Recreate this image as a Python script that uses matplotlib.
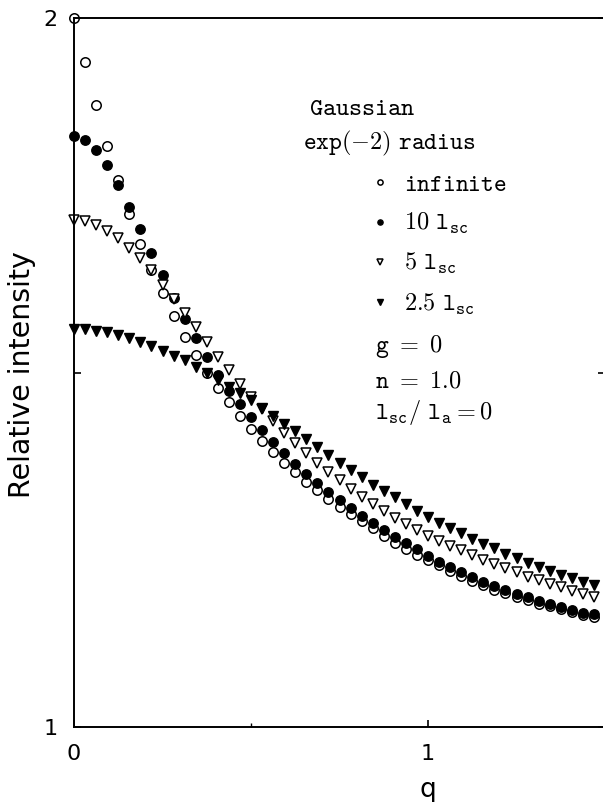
import numpy as np
import matplotlib
matplotlib.use("Agg")
import matplotlib.pyplot as plt

plt.rcParams['mathtext.fontset'] = 'cm'
plt.rcParams['font.family'] = ['DejaVu Sans']

q = np.arange(48) / 32

infinite = [2.000, 1.938, 1.877, 1.820, 1.771, 1.723, 1.681, 1.645, 1.612, 1.579,
            1.550, 1.524, 1.499, 1.478, 1.458, 1.439, 1.421, 1.404, 1.388, 1.373,
            1.359, 1.346, 1.334, 1.322, 1.311, 1.300, 1.290, 1.280, 1.270, 1.260,
            1.251, 1.243, 1.235, 1.228, 1.220, 1.213, 1.206, 1.200, 1.193, 1.189,
            1.184, 1.179, 1.174, 1.170, 1.166, 1.162, 1.158, 1.155]
r10 = [1.834, 1.828, 1.814, 1.793, 1.765, 1.734, 1.702, 1.668, 1.637, 1.605,
       1.575, 1.548, 1.522, 1.496, 1.474, 1.456, 1.437, 1.419, 1.402, 1.386,
       1.371, 1.357, 1.344, 1.332, 1.320, 1.309, 1.298, 1.288, 1.278, 1.268,
       1.259, 1.251, 1.241, 1.233, 1.226, 1.219, 1.212, 1.205, 1.199, 1.193,
       1.188, 1.183, 1.178, 1.173, 1.169, 1.165, 1.161, 1.159]
r5 = [1.715, 1.713, 1.708, 1.700, 1.689, 1.676, 1.661, 1.645, 1.624, 1.604,
      1.584, 1.564, 1.543, 1.522, 1.504, 1.484, 1.466, 1.448, 1.431, 1.415,
      1.400, 1.386, 1.373, 1.360, 1.348, 1.336, 1.325, 1.314, 1.304, 1.295,
      1.286, 1.278, 1.269, 1.262, 1.255, 1.249, 1.242, 1.236, 1.230, 1.224,
      1.218, 1.212, 1.207, 1.202, 1.197, 1.192, 1.187, 1.183]
r25 = [1.562, 1.561, 1.559, 1.557, 1.553, 1.548, 1.543, 1.537, 1.531, 1.523,
       1.517, 1.508, 1.500, 1.490, 1.480, 1.471, 1.461, 1.450, 1.439, 1.428,
       1.417, 1.406, 1.395, 1.384, 1.373, 1.362, 1.352, 1.342, 1.333, 1.324,
       1.3145, 1.305, 1.296, 1.288, 1.280, 1.273, 1.265, 1.258, 1.252, 1.244,
       1.238, 1.232, 1.226, 1.220, 1.214, 1.210, 1.205, 1.200]

labels = [r'$\mathtt{infinite}$', r'$\mathtt{10\ l_{sc}}$',
          r'$\mathtt{5\ l_{sc}}$', r'$\mathtt{2.5\ l_{sc}}$']

fig = plt.figure(figsize=(6.03, 8.02), dpi=100)
ax = fig.add_axes([74 / 603, 75 / 802, 531 / 603, 709 / 802])

ms = 6.8
l1, = ax.plot(q, infinite, 'o', ms=ms, mfc='white', mec='black', mew=1.1, clip_on=False)
l2, = ax.plot(q, r10, 'o', ms=ms, mfc='black', mec='black', clip_on=False)
l3, = ax.plot(q, r5, 'v', ms=ms + 0.4, mfc='white', mec='black', mew=1.1, clip_on=False)
l4, = ax.plot(q, r25, 'v', ms=ms + 0.4, mfc='black', mec='black', clip_on=False)

ax.set_xlim(0, 1.5)
ax.set_ylim(1, 2)
ax.set_xticks([0, 1])
ax.set_xticklabels(['0', '1'])
ax.set_xticks([0.5], minor=True)
ax.set_yticks([1, 1.5, 2])
ax.set_yticklabels(['1', '', '2'])

for s in ['left', 'bottom', 'top']:
    ax.spines[s].set_linewidth(1.4)
ax.spines['right'].set_visible(False)

ax.tick_params(axis='both', which='major', direction='in', length=5, width=1.2,
               labelsize=16, right=True)
ax.tick_params(axis='y', pad=12)
ax.tick_params(axis='x', pad=12)
ax.tick_params(axis='x', which='minor', direction='in', length=3, width=1)

fig.text(22 / 603, 1 - 375 / 802, 'Relative intensity', rotation=90,
         ha='center', va='center', fontsize=20.5)
fig.text(428 / 603, 1 - 790 / 802, 'q', ha='center', va='center', fontsize=19)

tfs = 17.5
fig.text(309 / 603, 1 - 108 / 802, r'$\mathtt{Gaussian}$', ha='left', va='center', fontsize=tfs + 0.5)
fig.text(303 / 603, 1 - 143 / 802, r'$\mathtt{exp(-2)\ radius}$', ha='left', va='center', fontsize=tfs)

leg = fig.legend([l1, l2, l3, l4], labels, loc='upper left',
                 bbox_to_anchor=(371 / 603, 1 - 172 / 802), frameon=False,
                 fontsize=tfs, markerscale=0.55, handlelength=0.75, handletextpad=0.6,
                 labelspacing=0.62, borderpad=0, borderaxespad=0)

fig.text(375 / 603, 1 - 346 / 802, r'$\mathtt{g\ =\ 0}$', ha='left', va='center', fontsize=tfs)
fig.text(375 / 603, 1 - 380 / 802, r'$\mathtt{n\ =\ 1.0}$', ha='left', va='center', fontsize=tfs)
fig.text(375 / 603, 1 - 413 / 802, r'$\mathtt{l_{sc}/\ l_a = 0}$', ha='left', va='center', fontsize=tfs)

fig.savefig('out.png', dpi=100)
